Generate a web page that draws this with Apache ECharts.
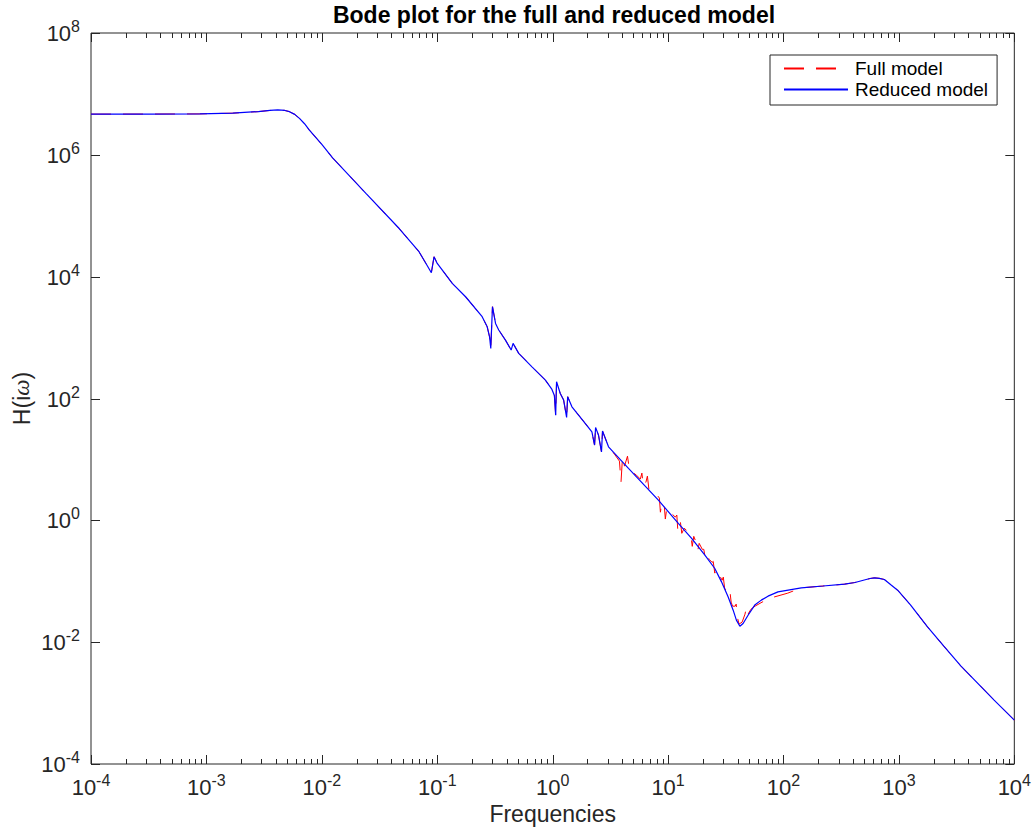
<!DOCTYPE html>
<html>
<head>
<meta charset="utf-8">
<script src="https://cdn.jsdelivr.net/npm/echarts@6/dist/echarts.min.js"></script>
<style>
  html, body { margin: 0; padding: 0; background: #ffffff; }
  #chart { width: 1034px; height: 831px; }
</style>
</head>
<body>
<div id="chart"></div>
<script>
// Magnitude samples, [frequency, |H(iw)|], shared by both models below ~3
const commonLow = [
  [1.0e-4, 4.66e6], [3.16e-4, 4.67e6], [8.75e-4, 4.70e6], [1.69e-3, 4.83e6],
  [2.82e-3, 5.13e6], [3.55e-3, 5.35e6], [4.15e-3, 5.46e6], [4.79e-3, 5.35e6],
  [5.24e-3, 5.11e6], [5.82e-3, 4.62e6], [6.40e-3, 3.97e6], [7.08e-3, 3.24e6],
  [7.80e-3, 2.55e6], [1.00e-2, 1.48e6], [1.24e-2, 8.91e5], [2.41e-2, 2.33e5],
  [4.68e-2, 6.17e4], [6.95e-2, 2.57e4], [8.20e-2, 1.51e4], [8.89e-2, 1.16e4],
  [9.38e-2, 2.12e4], [1.00e-1, 1.65e4], [1.107e-1, 1.28e4], [1.35e-1, 7.76e3],
  [1.76e-1, 4.68e3], [2.45e-1, 2.20e3], [2.71e-1, 1.50e3], [2.84e-1, 1.03e3],
  [2.91e-1, 6.65e2], [3.01e-1, 3.21e3], [3.20e-1, 1.71e3], [3.41e-1, 1.33e3],
  [3.90e-1, 9.10e2], [4.37e-1, 6.24e2], [4.54e-1, 8.04e2], [5.08e-1, 5.51e2],
  [6.62e-1, 3.31e2], [8.65e-1, 2.00e2], [9.86e-1, 1.41e2], [1.035, 1.12e2],
  [1.062, 53.3], [1.081, 188], [1.164, 121], [1.245, 94.2],
  [1.321, 49.0], [1.349, 107], [1.469, 73.1], [1.914, 39.0],
  [2.188, 28.2], [2.307, 17.2], [2.355, 33.5], [2.495, 25.1],
  [2.649, 13.3], [2.704, 29.2], [3.048, 16.1]
];

// Reduced model between ~3 and ~100: smooth descent into the notch
const reducedMid = [
  [4.539, 7.11], [8.241, 2.148], [12.27, 0.889], [16.0, 0.505],
  [20.84, 0.268], [25.41, 0.162], [29.04, 0.0977], [33.11, 0.0555],
  [36.64, 0.0335], [39.08, 0.0230], [41.88, 0.0183], [44.67, 0.0203],
  [49.32, 0.0277], [56.36, 0.0406], [64.27, 0.0490], [73.45, 0.0569],
  [89.54, 0.0670]
];

// Full model between ~3 and ~100: many lightly damped resonances
const fullMid = [
  [3.43, 12.2], [3.79, 9.38], [3.91, 4.24], [4.03, 10.9], [4.19, 7.76],
  [4.45, 11.3], [4.63, 6.67], [5.32, 5.52], [5.75, 4.75], [5.93, 5.96],
  [6.11, 3.65], [6.43, 4.24], [6.62, 5.32], [6.82, 3.25], [7.46, 3.13],
  [8.41, 2.32], [8.58, 1.36], [8.84, 1.99], [9.29, 1.65], [9.47, 1.05],
  [9.75, 1.59], [10.45, 1.36], [11.55, 1.13], [11.91, 1.22], [12.14, 0.690],
  [12.76, 0.970], [13.15, 0.612], [13.81, 0.745], [15.27, 0.612], [15.71, 0.589],
  [16.2, 0.374], [16.7, 0.546], [17.5, 0.435], [18.1, 0.321], [18.6, 0.419],
  [19.8, 0.334], [20.4, 0.334], [21.0, 0.238], [21.6, 0.277], [22.7, 0.229],
  [24.1, 0.204], [24.6, 0.212], [25.4, 0.136], [26.1, 0.158], [29.4, 0.104],
  [30.1, 0.117], [30.9, 0.0771], [32.2, 0.0687], [33.5, 0.0662], [34.2, 0.0741],
  [35.2, 0.0454], [36.2, 0.0390], [38.1, 0.0390], [38.9, 0.0421], [40.0, 0.0248],
  [41.2, 0.0198], [43.8, 0.0213], [46.4, 0.0288], [47.8, 0.0376], [49.3, 0.0288],
  [52.3, 0.0348], [56.7, 0.0390], [65.2, 0.0454], [76.4, 0.0528], [109, 0.0638]
];

// Shared high-frequency part: plateau, second corner and roll-off
const commonHigh = [
  [142.6, 0.0780], [220, 0.0835], [338.1, 0.0895], [416.9, 0.0955],
  [501, 0.1047], [562, 0.1109], [613.8, 0.1138], [676, 0.1117],
  [748.2, 0.1069], [851, 0.0875], [975, 0.0714], [1259, 0.0410],
  [1770, 0.0178], [2450, 8.6e-3], [3436, 4.07e-3], [6683, 1.12e-3], [1e4, 5.25e-4]
];

// Axis ranges and tick positions
const X_MIN = 1e-4, X_MAX = 1e4;
const Y_MIN = 1e-4, Y_MAX = 1e8;
const xMajorTicks = [1e-4, 1e-3, 1e-2, 1e-1, 1, 10, 100, 1000, 10000];
const xMinorSteps = [2, 3, 4, 5, 6, 7, 8, 9];
const yMajorTicks = [1e-4, 1e-2, 1, 1e2, 1e4, 1e6, 1e8];

const fullModel = commonLow.concat(fullMid, commonHigh);
const reducedModel = commonLow.concat(reducedMid, commonHigh);
const xMinorTicks = xMajorTicks.slice(0, -1).flatMap(d => xMinorSteps.map(k => k * d));

const FONT = '"Liberation Sans", Arial, Helvetica, sans-serif';
const AXIS_COLOR = '#262626';
const BASE_SIZE = 22;   // "10" of the tick labels
const EXP_SIZE = 16;    // exponent of the tick labels

const chart = echarts.init(document.getElementById('chart'), null, { renderer: 'svg' });

function expOf(v) { return Math.round(Math.log10(v)); }

const tickRich = {
  b: { fontSize: BASE_SIZE, fontFamily: FONT, color: AXIS_COLOR, fill: AXIS_COLOR, verticalAlign: 'bottom', lineHeight: 23 },
  e: { fontSize: EXP_SIZE, fontFamily: FONT, color: AXIS_COLOR, fill: AXIS_COLOR, verticalAlign: 'bottom', lineHeight: 16, padding: [0, 0, 10, 0] }
};

// Tick marks drawn inward on bottom/top (x) and left/right (y)
function xTicks(len) {
  return function (params, api) {
    const v = api.value(0);
    const b = api.coord([v, Y_MIN]);
    const t = api.coord([v, Y_MAX]);
    const x = Math.round(b[0]) + 0.5;
    const st = { stroke: AXIS_COLOR, lineWidth: 1 };
    return {
      type: 'group',
      children: [
        { type: 'line', shape: { x1: x, y1: b[1], x2: x, y2: b[1] - len }, style: st },
        { type: 'line', shape: { x1: x, y1: t[1], x2: x, y2: t[1] + len }, style: st }
      ]
    };
  };
}
function yTicks(len) {
  return function (params, api) {
    const v = api.value(1);
    const l = api.coord([X_MIN, v]);
    const r = api.coord([X_MAX, v]);
    const y = Math.round(l[1]) + 0.5;
    const st = { stroke: AXIS_COLOR, lineWidth: 1 };
    return {
      type: 'group',
      children: [
        { type: 'line', shape: { x1: l[0], y1: y, x2: l[0] + len, y2: y }, style: st },
        { type: 'line', shape: { x1: r[0], y1: y, x2: r[0] - len, y2: y }, style: st },
        {
          type: 'text',
          x: l[0] - 11, y: l[1],
          style: {
            text: '{b|10}{e|' + expOf(v) + '}',
            align: 'right', verticalAlign: 'middle',
            rich: tickRich
          }
        }
      ]
    };
  };
}

const option = {
  animation: false,
  backgroundColor: '#ffffff',
  grid: {
    left: 91, right: 17, top: 33, bottom: 67,
    show: true, borderColor: AXIS_COLOR, borderWidth: 1, backgroundColor: 'transparent'
  },
  graphic: [{
    type: 'text',
    x: 554, y: 15,
    style: {
      text: 'Bode plot for the full and reduced model',
      font: 'bold 23px ' + FONT,
      fill: '#000000',
      align: 'center', verticalAlign: 'middle'
    }
  }],
  legend: {
    data: ['Full model', 'Reduced model'],
    orient: 'vertical',
    left: 770, top: 55,
    itemWidth: 64, itemHeight: 14, itemGap: 0,
    padding: [3, 9, 5, 13],
    backgroundColor: '#ffffff',
    borderColor: AXIS_COLOR, borderWidth: 1, borderRadius: 0,
    itemStyle: { opacity: 0 },
    textStyle: { fontSize: 19, lineHeight: 21, fontFamily: FONT, color: '#000000', padding: [0, 0, 0, 2] }
  },
  xAxis: {
    type: 'log', logBase: 10, min: X_MIN, max: X_MAX,
    name: 'Frequencies', nameLocation: 'middle', nameGap: 38,
    nameTextStyle: { fontSize: 23, fontFamily: FONT, color: AXIS_COLOR },
    axisLine: { show: false },
    axisTick: { show: false },
    splitLine: { show: false },
    minorTick: { show: false },
    axisLabel: {
      margin: 11,
      formatter: v => '{b|10}{e|' + expOf(v) + '}',
      rich: tickRich
    }
  },
  yAxis: {
    type: 'log', logBase: 10, min: Y_MIN, max: Y_MAX,
    name: 'H(i{w|ω})', nameLocation: 'middle', nameGap: 58,
    nameTextStyle: {
      fontSize: 23, fontFamily: FONT, color: AXIS_COLOR,
      rich: { w: { fontSize: 23, fontFamily: '"Liberation Serif", serif', fontStyle: 'italic', color: AXIS_COLOR } }
    },
    axisLine: { show: false },
    axisTick: { show: false },
    splitLine: { show: false },
    axisLabel: { show: false }
  },
  series: [
    {
      name: 'Full model', type: 'line', data: fullModel,
      symbol: 'none', showSymbol: false, smooth: false, z: 2,
      color: '#ff0000',
      lineStyle: { color: '#ff0000', width: 1, type: [20, 12] }
    },
    {
      name: 'Reduced model', type: 'line', data: reducedModel,
      symbol: 'none', showSymbol: false, smooth: false, z: 3,
      color: '#0000ff',
      lineStyle: { color: '#0000ff', width: 1.2, type: 'solid' }
    },
    {
      type: 'custom', name: 'xMajor', silent: true, clip: false, z: 5,
      data: xMajorTicks.map(v => [v, 1]), renderItem: xTicks(9)
    },
    {
      type: 'custom', name: 'xMinor', silent: true, clip: false, z: 5,
      data: xMinorTicks.map(v => [v, 1]), renderItem: xTicks(5)
    },
    {
      type: 'custom', name: 'yMajor', silent: true, clip: false, z: 5,
      data: yMajorTicks.map(v => [1, v]), renderItem: yTicks(9)
    }
  ]
};

chart.setOption(option);
</script>
</body>
</html>
